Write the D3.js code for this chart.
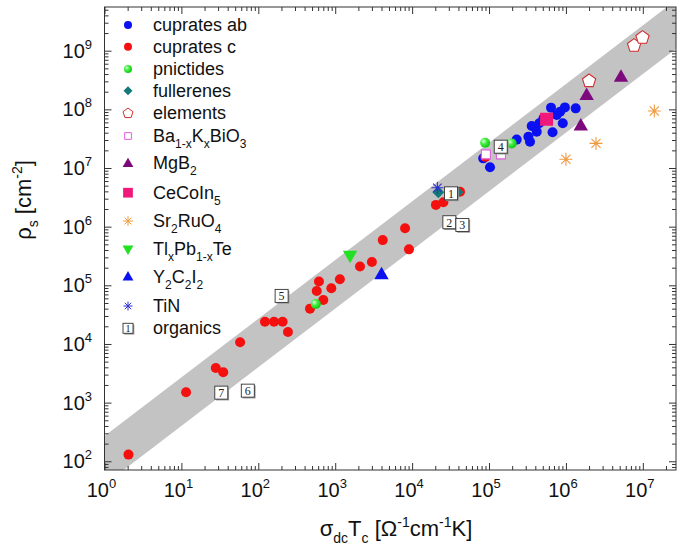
<!DOCTYPE html>
<html>
<head>
<meta charset="utf-8">
<script src="https://cdn.jsdelivr.net/npm/d3@7"></script>
<style>
body { margin: 0; background: #fff; }
text { font-family: "Liberation Sans", Arial, sans-serif; }
</style>
</head>
<body>
<div class="areaGrafica"></div>
<script>
// datos: [sigma_dc*Tc, rho_s]
const cupratesAb = [[8.4e4,1.46e7],[1.03e5,1.03e7],[2.29e5,3.05e7],[3.25e5,3.42e7],[3.41e5,2.81e7],
  [3.59e5,5.2e7],[4.17e5,4.17e7],[4.5e5,5.8e7],[5.1e5,7.05e7],[6.4e5,1.07e8],[6.7e5,4.07e7],
  [7.6e5,8.0e7],[8.4e5,9.1e7],[9.7e5,1.08e8],[9.1e5,5.8e7],[1.34e6,1.04e8]];
const cupratesC = [[2.05,130],[11.5,1500],[28,3900],[35,3300],[58,1.07e4],[122,2.4e4],[160,2.4e4],
  [207,2.4e4],[243,1.6e4],[470,4e4],[700,5.6e4],[575,8e4],[615,1.16e5],[890,8.9e4],[1150,1.27e5],
  [2100,2.1e5],[3000,2.5e5],[4150,5.9e5],[8100,9.4e5],[9100,4.1e5],[2.04e4,2.35e6],[2.55e4,2.6e6],
  [4.2e4,3.95e6],[9.0e4,1.55e7]];
const pnictides = [[560,4.8e4],[8.9e4,2.7e7],[1.97e5,2.63e7],[1.4e5,1.8e7]];
const fullerenes = [[2.19e4,3.85e6],[3.9e4,3.85e6]];
const elements = [[2.0e6,3.05e8],[7.7e6,1.22e9],[9.9e6,1.67e9]];
const bkbo = [[9.1e4,1.71e7],[1.43e5,1.71e7]];
const mgb2 = [[1.56e6,5.3e7],[1.86e6,1.76e8],[5.2e6,3.6e8]];
const cecoin5 = [[5.6e5,6.8e7]];
const sr2ruo4 = [[1.0e6,1.41e7],[2.46e6,2.63e7],[1.41e7,9.4e7]];
const tlpbte = [[1560,3.2e5]];
const y2c2i2 = [[4000,1.55e5]];
const tin = [[2.13e4,4.6e6]];
const organics = [[3.2e4,3.7e6],[3.05e4,1.19e6],[4.5e4,1.07e6],[1.42e5,2.31e7],[201,6.6e4],[73,1600],[33,1480]];
const organicsLabel = ['1','2','3','4','5','6','7'];

const bandaFactores = [40, 270];
const xDominio = [1, 2.7e7];
const yDominio = [71, 5.56e9];
const xMayores = [1e0,1e1,1e2,1e3,1e4,1e5,1e6,1e7];
const yMayores = [1e2,1e3,1e4,1e5,1e6,1e7,1e8,1e9];
const xExp = ['0','1','2','3','4','5','6','7'];
const yExp = ['2','3','4','5','6','7','8','9'];

const leyenda = ['cuprates ab','cuprates c','pnictides','fullerenes','elements','Ba_{1-x}K_{x}BiO_{3}',
  'MgB_{2}','CeCoIn_{5}','Sr_{2}RuO_{4}','Tl_{x}Pb_{1-x}Te','Y_{2}C_{2}I_{2}','TiN','organics'];

const w = 685, h = 551;
const izq = 104.5, der = 676, arriba = 7, abajo = 470;
const leyendaY = [25, 46.7, 69, 90.7, 113.3, 136, 163.3, 192.7, 221, 249.3, 276.7, 306, 328.3];

const xScale = d3.scaleLog().domain(xDominio).range([izq, der]);
const yScale = d3.scaleLog().domain(yDominio).range([abajo, arriba]);

const svg = d3.select('.areaGrafica').append('svg')
  .attr('width', w).attr('height', h);

const defs = svg.append('defs');
defs.append('clipPath').attr('id', 'recorte').append('rect')
  .attr('x', izq).attr('y', arriba).attr('width', der - izq).attr('height', abajo - arriba);
const grad = defs.append('radialGradient').attr('id', 'esfera')
  .attr('cx', '35%').attr('cy', '35%').attr('r', '65%');
grad.append('stop').attr('offset', '0%').attr('stop-color', '#d8ffd8');
grad.append('stop').attr('offset', '45%').attr('stop-color', '#44ee44');
grad.append('stop').attr('offset', '100%').attr('stop-color', '#11cc11');

// banda gris
const bandaPts = [
  [xDominio[0], bandaFactores[0] * xDominio[0]], [xDominio[1], bandaFactores[0] * xDominio[1]],
  [xDominio[1], bandaFactores[1] * xDominio[1]], [xDominio[0], bandaFactores[1] * xDominio[0]]];
svg.append('path')
  .attr('clip-path', 'url(#recorte)')
  .attr('d', d3.line().x(d => xScale(d[0])).y(d => yScale(d[1]))(bandaPts) + 'Z')
  .attr('fill', '#c3c3c3');

// simbolos
function pentagono(r) {
  let p = [];
  for (let i = 0; i < 5; i++) {
    let a = -Math.PI / 2 + i * 2 * Math.PI / 5;
    p.push([r * Math.cos(a), r * Math.sin(a)]);
  }
  return 'M' + p.join('L') + 'Z';
}
function triangulo(s, abajoT) {
  let k = abajoT ? -1 : 1;
  return 'M0,' + (-k * s * 0.62) + 'L' + (s * 0.6) + ',' + (k * s * 0.42) + 'L' + (-s * 0.6) + ',' + (k * s * 0.42) + 'Z';
}
function asterisco(r) {
  let d = '';
  for (let i = 0; i < 4; i++) {
    let a = i * Math.PI / 4;
    d += 'M' + (r * Math.cos(a)) + ',' + (r * Math.sin(a)) + 'L' + (-r * Math.cos(a)) + ',' + (-r * Math.sin(a));
  }
  return d;
}
function diamante(s) { return 'M0,' + (-s) + 'L' + s + ',0L0,' + s + 'L' + (-s) + ',0Z'; }
function cuadro(s) { return 'M' + (-s) + ',' + (-s) + 'H' + s + 'V' + s + 'H' + (-s) + 'Z'; }
function circulo(r) { return d3.symbol(d3.symbolCircle, Math.PI * r * r)(); }

const series = [
  { datos: cupratesAb, d: k => circulo(5 * k), fill: '#0a10f0', stroke: 'none' },
  { datos: cupratesC, d: k => circulo(5 * k), fill: '#f51010', stroke: 'none' },
  { datos: pnictides, d: k => circulo(5 * k), fill: 'url(#esfera)', stroke: 'none' },
  { datos: fullerenes, d: k => diamante(6 * k), fill: '#137a7a', stroke: 'none' },
  { datos: elements, d: k => pentagono(7 * k), fill: '#fff', stroke: '#d03030' },
  { datos: bkbo, d: k => cuadro(4.5 * k), fill: '#fff', stroke: '#e060e0' },
  { datos: mgb2, d: k => triangulo(12 * k), fill: '#7d0a7d', stroke: 'none' },
  { datos: cecoin5, d: k => cuadro(6.5 * k), fill: '#f0187a', stroke: 'none' },
  { datos: sr2ruo4, d: k => asterisco(6.5 * k), fill: 'none', stroke: '#f09a40' },
  { datos: tlpbte, d: k => triangulo(12 * k, true), fill: '#22e022', stroke: 'none' },
  { datos: y2c2i2, d: k => triangulo(12 * k), fill: '#0a10f0', stroke: 'none' },
  { datos: tin, d: k => asterisco(6 * k), fill: 'none', stroke: '#3030d0' }
];

const marcas = svg.append('g').attr('clip-path', 'url(#recorte)');
series.forEach(s => {
  marcas.selectAll(null).data(s.datos).enter().append('path')
    .attr('d', s.d(1))
    .attr('transform', d => 'translate(' + xScale(d[0]) + ',' + yScale(d[1]) + ')')
    .attr('fill', s.fill).attr('stroke', s.stroke).attr('stroke-width', 1.1);
});

function cajaOrganico(g, x, y, t, s, fs) {
  g.append('rect').attr('x', x - s / 2 + 1.3).attr('y', y - s / 2 + 1.3).attr('width', s).attr('height', s)
    .attr('fill', '#999');
  g.append('rect').attr('x', x - s / 2).attr('y', y - s / 2).attr('width', s).attr('height', s)
    .attr('fill', '#fff').attr('stroke', '#333').attr('stroke-width', 0.9);
  g.append('text').attr('x', x).attr('y', y + fs * 0.36).attr('text-anchor', 'middle')
    .style('font-family', '"Liberation Serif","DejaVu Serif",serif').style('font-size', fs + 'px')
    .attr('fill', '#222').text(t);
}
organics.forEach((d, i) => cajaOrganico(marcas, xScale(d[0]), yScale(d[1]), organicsLabel[i], 13, 12));

// ejes
function minores(mayores, dom) {
  let v = [];
  mayores.concat([mayores[0] / 10]).forEach(m => {
    for (let k = 2; k <= 9; k++) { let t = m * k; if (t > dom[0] && t < dom[1]) v.push(t); }
  });
  return v;
}
const xMin = minores(xMayores, xDominio), yMin = minores(yMayores, yDominio);

function eje(fn, scale, vals, size, tr) {
  svg.append('g').attr('transform', tr)
    .call(fn(scale).tickValues(vals).tickSize(size).tickFormat(''))
    .call(g => g.select('.domain').remove())
    .call(g => g.selectAll('line').attr('stroke', '#333'));
}
eje(d3.axisBottom, xScale, xMayores, -7, 'translate(0,' + abajo + ')');
eje(d3.axisBottom, xScale, xMin, -4, 'translate(0,' + abajo + ')');
eje(d3.axisTop, xScale, xMayores, -7, 'translate(0,' + arriba + ')');
eje(d3.axisTop, xScale, xMin, -4, 'translate(0,' + arriba + ')');
eje(d3.axisLeft, yScale, yMayores, -7, 'translate(' + izq + ',0)');
eje(d3.axisLeft, yScale, yMin, -4, 'translate(' + izq + ',0)');
eje(d3.axisRight, yScale, yMayores, -7, 'translate(' + der + ',0)');
eje(d3.axisRight, yScale, yMin, -4, 'translate(' + der + ',0)');

svg.append('rect').attr('x', izq).attr('y', arriba).attr('width', der - izq).attr('height', abajo - arriba)
  .attr('fill', 'none').attr('stroke', '#333').attr('stroke-width', 1);

// etiquetas
xMayores.forEach((v, i) => {
  let t = svg.append('text').attr('x', xScale(v) - 3).attr('y', 497).attr('text-anchor', 'middle')
    .style('font-size', '20px').attr('fill', '#111');
  t.append('tspan').text('10');
  t.append('tspan').attr('dy', -9).style('font-size', '13px').text(xExp[i]);
});
yMayores.forEach((v, i) => {
  let t = svg.append('text').attr('x', 92).attr('y', yScale(v) + 7).attr('text-anchor', 'end')
    .style('font-size', '20px').attr('fill', '#111');
  t.append('tspan').text('10');
  t.append('tspan').attr('dy', -9).style('font-size', '13px').text(yExp[i]);
});

function rico(t, str, fs, fsSub) {
  let partes = str.split(/([_^]\{[^}]*\})/).filter(p => p.length);
  let base = 0;
  partes.forEach(p => {
    if (p[0] === '_' || p[0] === '^') {
      let off = p[0] === '_' ? fs * 0.33 : -fs * 0.42;
      t.append('tspan').attr('dy', off - base).style('font-size', fsSub + 'px').text(p.slice(2, -1));
      base = off;
    } else {
      t.append('tspan').attr('dy', -base).text(p);
      base = 0;
    }
  });
}

const xt = svg.append('text').attr('x', 396).attr('y', 536).attr('text-anchor', 'middle')
  .style('font-size', '22px').attr('fill', '#111');
rico(xt, 'σ_{dc}T_{c} [Ω^{-1}cm^{-1}K]', 22, 14);
const yt = svg.append('text').attr('transform', 'translate(31,200) rotate(-90)').attr('text-anchor', 'middle')
  .style('font-size', '22px').attr('fill', '#111');
rico(yt, 'ρ_{s} [cm^{-2}]', 22, 14);

// leyenda
const gl = svg.append('g');
leyenda.forEach((lab, i) => {
  let y = leyendaY[i];
  if (i < series.length) {
    let s = series[i];
    gl.append('path').attr('d', s.d(i < 3 ? 0.8 : 0.75)).attr('transform', 'translate(128,' + y + ')')
      .attr('fill', s.fill).attr('stroke', s.stroke).attr('stroke-width', 1);
  } else {
    cajaOrganico(gl, 128, y, '1', 10, 10);
  }
  let t = gl.append('text').attr('x', 153).attr('y', y + 6).style('font-size', '18px').attr('fill', '#111');
  rico(t, lab, 18, 12);
});
</script>
</body>
</html>
